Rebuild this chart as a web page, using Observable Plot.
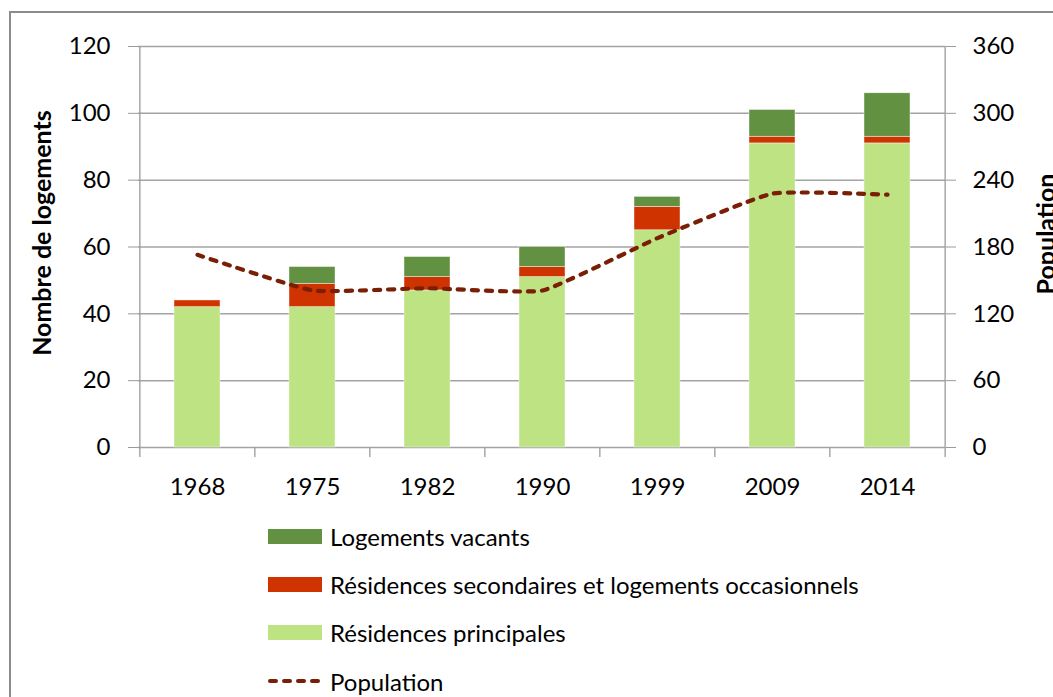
<!DOCTYPE html>
<html>
<head>
<meta charset="utf-8">
<script src="https://cdn.jsdelivr.net/npm/d3@7"></script>
<script src="https://cdn.jsdelivr.net/npm/@observablehq/plot@0.6"></script>
<style>
  html, body { margin: 0; padding: 0; background: #fff; }
  #wrap { position: relative; width: 1053px; height: 697px; overflow: hidden; background: #fff; font-family: Lato, "Open Sans", sans-serif; }
  #frame { position: absolute; left: 9px; top: 11px; width: 2000px; height: 2000px; border: 2px solid #8c8c8c; box-sizing: border-box; }
  #chart { position: absolute; left: 0; top: 0; }
  #legend { position: absolute; left: 268px; top: 0; }
  .item { position: absolute; left: 0; display: flex; align-items: center; white-space: nowrap; font-size: 24px; color: #000; }
  .sw { width: 54px; height: 15px; margin-right: 8px; }
</style>
</head>
<body>
<div id="wrap">
  <div id="frame"></div>
  <div id="chart"></div>
  <div id="legend"></div>
</div>
<script>
// ---- data ----
const years = ["1968", "1975", "1982", "1990", "1999", "2009", "2014"];
const principales = [42, 42, 47, 51, 65, 91, 91];
const secondaires = [2, 7, 4, 3, 7, 2, 2];
const vacants = [0, 5, 6, 6, 3, 8, 13];
const population = [173, 141, 143, 141, 188, 228, 227];
const seriesNames = ["Résidences principales", "Résidences secondaires et logements occasionnels", "Logements vacants"];
const seriesColors = ["#bee383", "#cf3400", "#629142"];
const lineName = "Population";
const lineColor = "#7a1e06";
const leftTicks = [0, 20, 40, 60, 80, 100, 120];
const popPerUnit = 3; // right axis: 0–360 for 0–120

// ---- layout ----
const W = 1053, H = 510;
const mL = 138, mR = 108, mT = 46, mB = 63;
const step = (W - mL - mR) / years.length;

const long = [];
[principales, secondaires, vacants].forEach((arr, s) => {
  years.forEach((y, i) => long.push({year: y, series: seriesNames[s], value: arr[i]}));
});
const pop = years.map((y, i) => ({year: y, pop: population[i]}));

const chart = Plot.plot({
  width: W, height: H,
  marginLeft: mL, marginRight: mR, marginTop: mT, marginBottom: mB,
  style: {fontFamily: "Lato, 'Open Sans', sans-serif", fontSize: "24px", color: "#000", background: "transparent"},
  x: {domain: years, paddingInner: 0.6, paddingOuter: 0.3, label: null},
  y: {domain: [0, 120], label: null},
  color: {domain: seriesNames, range: seriesColors},
  marks: [
    Plot.gridY(leftTicks, {stroke: "#a3a3a3", strokeOpacity: 1, strokeWidth: 1.5}),
    Plot.barY(long, {x: "year", y: "value", fill: "series", stroke: "#ffffff", strokeWidth: 0.6, strokeOpacity: 0.7}),
    Plot.lineY(pop, {x: "year", y: d => d.pop / popPerUnit, stroke: lineColor, strokeWidth: 4.2,
      strokeDasharray: "6,8", strokeLinecap: "round", curve: "cardinal", tension: 0.6}),
    // vertical axis lines (left and right edge of the frame)
    Plot.ruleX([years[0]], {x: d => d, dx: -step / 2, stroke: "#9a9a9a", strokeWidth: 1.3, insetBottom: -10}),
    Plot.ruleX([years[years.length - 1]], {x: d => d, dx: step / 2, stroke: "#9a9a9a", strokeWidth: 1.3, insetBottom: -10}),
    // category boundary ticks on the x axis
    Plot.ruleX(years.slice(1), {x: d => d, dx: -step / 2, y1: 0, y2: 0, insetBottom: -10, stroke: "#9a9a9a", strokeWidth: 1.3}),
    Plot.axisX({tickSize: 0, tickPadding: 30, fontSize: 24, fill: "#000"}),
    Plot.axisY(leftTicks, {anchor: "left", tickSize: 10, tickPadding: 18, stroke: "#9a9a9a", fill: "#000", fontSize: 24, label: null}),
    Plot.axisY(leftTicks, {anchor: "right", tickSize: 10, tickPadding: 17, stroke: "#9a9a9a", fill: "#000", fontSize: 24, label: null,
      tickFormat: d => String(d * popPerUnit)}),
    Plot.text(["Nombre de logements"], {frameAnchor: "left", textAnchor: "middle", dx: -96, dy: -14, rotate: -90, fontWeight: "bold", fontSize: 25, fill: "#000"}),
    Plot.text([lineName], {frameAnchor: "right", textAnchor: "middle", dx: 101, dy: -13, rotate: -90, fontWeight: "bold", fontSize: 25, fill: "#000"})
  ]
});
document.getElementById("chart").appendChild(chart);

// ---- legend ----
const legend = document.getElementById("legend");
const legendRows = [
  {name: seriesNames[2], color: seriesColors[2], top: 536},
  {name: seriesNames[1], color: seriesColors[1], top: 584},
  {name: seriesNames[0], color: seriesColors[0], top: 632}
];
legendRows.forEach(r => {
  const it = document.createElement("div");
  it.className = "item";
  it.style.top = (r.top - 16) + "px";
  it.style.height = "32px";
  const sw = document.createElement("span");
  sw.className = "sw";
  sw.style.background = r.color;
  it.appendChild(sw);
  const t = document.createElement("span");
  t.textContent = r.name;
  it.appendChild(t);
  legend.appendChild(it);
});
{
  const it = document.createElement("div");
  it.className = "item";
  it.style.top = (681 - 16) + "px";
  it.style.height = "32px";
  const svgNS = "http://www.w3.org/2000/svg";
  const s = document.createElementNS(svgNS, "svg");
  s.setAttribute("width", "54"); s.setAttribute("height", "10");
  s.style.marginRight = "8px";
  const l = document.createElementNS(svgNS, "line");
  l.setAttribute("x1", "2"); l.setAttribute("x2", "52"); l.setAttribute("y1", "5"); l.setAttribute("y2", "5");
  l.setAttribute("stroke", lineColor); l.setAttribute("stroke-width", "4");
  l.setAttribute("stroke-dasharray", "6,8"); l.setAttribute("stroke-linecap", "round");
  s.appendChild(l);
  it.appendChild(s);
  const t = document.createElement("span");
  t.textContent = lineName;
  it.appendChild(t);
  legend.appendChild(it);
}
</script>
</body>
</html>
